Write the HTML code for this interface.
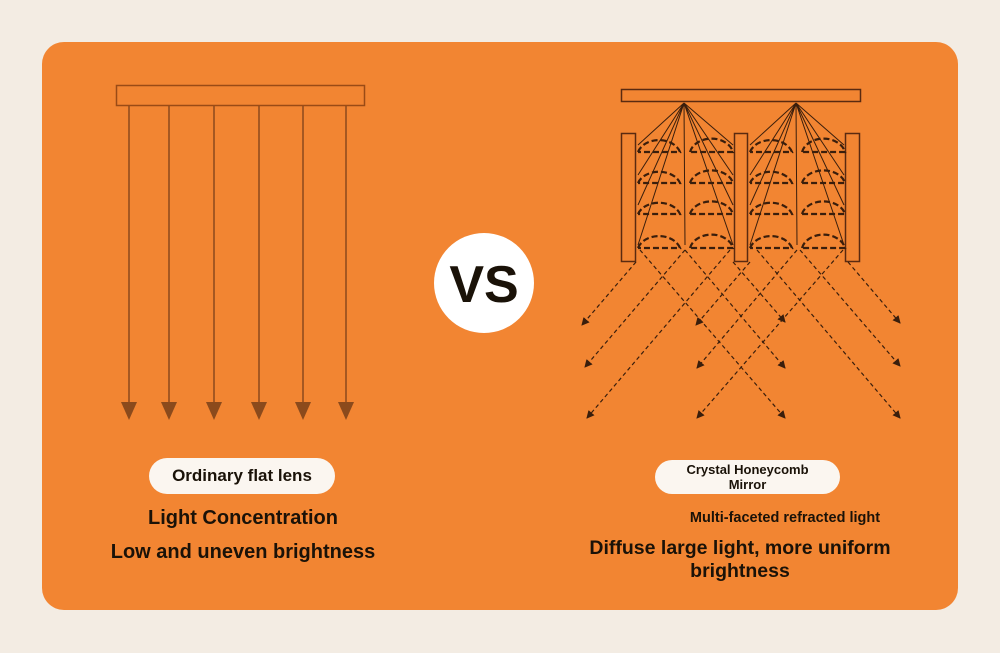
<!DOCTYPE html>
<html><head><meta charset="utf-8"><style>
html,body{margin:0;padding:0;background:#f3ece3;}
body{width:1000px;height:653px;position:relative;overflow:hidden;font-family:"Liberation Sans",sans-serif;}
.card{position:absolute;left:42px;top:42px;width:916px;height:568px;background:#f28532;border-radius:22px;}
svg{position:absolute;left:0;top:0;}
.t{position:absolute;font-weight:bold;color:#1a1208;text-align:center;white-space:nowrap;}
.pill{position:absolute;background:#fbf6f0;border-radius:20px;text-align:center;font-weight:bold;color:#1a1208;}
</style></head><body>
<div class="card"></div>
<svg width="1000" height="653" viewBox="0 0 1000 653">
<defs>
<marker id="ah" markerWidth="8" markerHeight="8" refX="7" refY="4" orient="auto" markerUnits="userSpaceOnUse"><path d="M0,0 L8,4 L0,8 z" fill="#3a1e0c"/></marker>
</defs>
<rect x="116.5" y="85.5" width="248" height="20" fill="none" stroke="#9a4b16" stroke-width="1.5"/>
<g stroke="#8b4a1c" stroke-width="1.5" fill="#8b4a1c">
<line x1="129" y1="106" x2="129" y2="405"/><path d="M121,402 L137,402 L129,420z" stroke="none"/>
<line x1="169" y1="106" x2="169" y2="405"/><path d="M161,402 L177,402 L169,420z" stroke="none"/>
<line x1="214" y1="106" x2="214" y2="405"/><path d="M206,402 L222,402 L214,420z" stroke="none"/>
<line x1="259" y1="106" x2="259" y2="405"/><path d="M251,402 L267,402 L259,420z" stroke="none"/>
<line x1="303" y1="106" x2="303" y2="405"/><path d="M295,402 L311,402 L303,420z" stroke="none"/>
<line x1="346" y1="106" x2="346" y2="405"/><path d="M338,402 L354,402 L346,420z" stroke="none"/>
</g>
<circle cx="484" cy="283" r="50" fill="#fff"/>
<text x="484" y="302" text-anchor="middle" font-family="Liberation Sans" font-weight="bold" font-size="52" fill="#1a1208">VS</text>
<g stroke="#5a2a10" stroke-width="1.5" fill="none">
<rect x="621.5" y="89.5" width="239" height="12"/>
<rect x="621.5" y="133.5" width="14" height="128"/>
<rect x="734.5" y="133.5" width="13" height="128"/>
<rect x="845.5" y="133.5" width="14" height="128"/>
</g>
<g stroke="#3a1e0c" stroke-width="1" fill="none">
<path d="M684,103 L638,145 M684,103 L638,175 M684,103 L638,205 M684,103 L638,245 M684,103 L685,245 M684,103 L733,145 M684,103 L733,175 M684,103 L733,205 M684,103 L733,245"/>
<path d="M796,103 L750,145 M796,103 L750,175 M796,103 L750,205 M796,103 L750,245 M796,103 L797,245 M796,103 L844,145 M796,103 L844,175 M796,103 L844,205 M796,103 L844,245"/>
</g>
<g stroke="#3a1e0c" stroke-width="2.2" fill="none" stroke-dasharray="6,3">
<path id="arcs" d="M638,152 A22,17 0 0 1 680,152 L638,152 M690,152 A22,17 0 0 1 733,152 L690,152 M638,183 A22,16 0 0 1 680,183 L638,183 M690,183 A22,16 0 0 1 733,183 L690,183 M638,214 A22,16 0 0 1 680,214 L638,214 M690,214 A22,16 0 0 1 733,214 L690,214 M638,248 A22,17 0 0 1 680,248 L638,248 M690,248 A22,17 0 0 1 733,248 L690,248"/>
<use href="#arcs" x="112"/>
</g>
<g stroke="#3a1e0c" stroke-width="1.2" fill="none" stroke-dasharray="4,3" marker-end="url(#ah)">
<line x1="636" y1="262" x2="582" y2="325"/>
<line x1="685" y1="250" x2="585" y2="367"/>
<line x1="730" y1="250" x2="587" y2="418"/>
<line x1="750" y1="262" x2="696" y2="325"/>
<line x1="797" y1="250" x2="697" y2="368"/>
<line x1="843" y1="250" x2="697" y2="418"/>
<line x1="733" y1="262" x2="785" y2="322"/>
<line x1="685" y1="250" x2="785" y2="368"/>
<line x1="640" y1="250" x2="785" y2="418"/>
<line x1="848" y1="262" x2="900" y2="323"/>
<line x1="800" y1="250" x2="900" y2="366"/>
<line x1="757" y1="250" x2="900" y2="418"/>
</g>
</svg>
<div class="pill" style="left:149px;top:458px;width:186px;height:36px;line-height:36px;font-size:17px;">Ordinary flat lens</div>
<div class="t" style="left:80px;width:326px;top:507px;font-size:20px;">Light Concentration</div>
<div class="t" style="left:80px;width:326px;top:541px;font-size:20px;">Low and uneven brightness</div>
<div class="pill" style="left:655px;top:460px;width:185px;height:34px;font-size:13px;line-height:15px;box-sizing:border-box;padding-top:2px;">Crystal Honeycomb<br>Mirror</div>
<div class="t" style="left:640px;width:290px;top:510px;font-size:14.5px;">Multi-faceted refracted light</div>
<div class="t" style="left:560px;width:360px;top:537px;font-size:19.5px;line-height:23px;white-space:normal;">Diffuse large light, more uniform brightness</div>
</body></html>
